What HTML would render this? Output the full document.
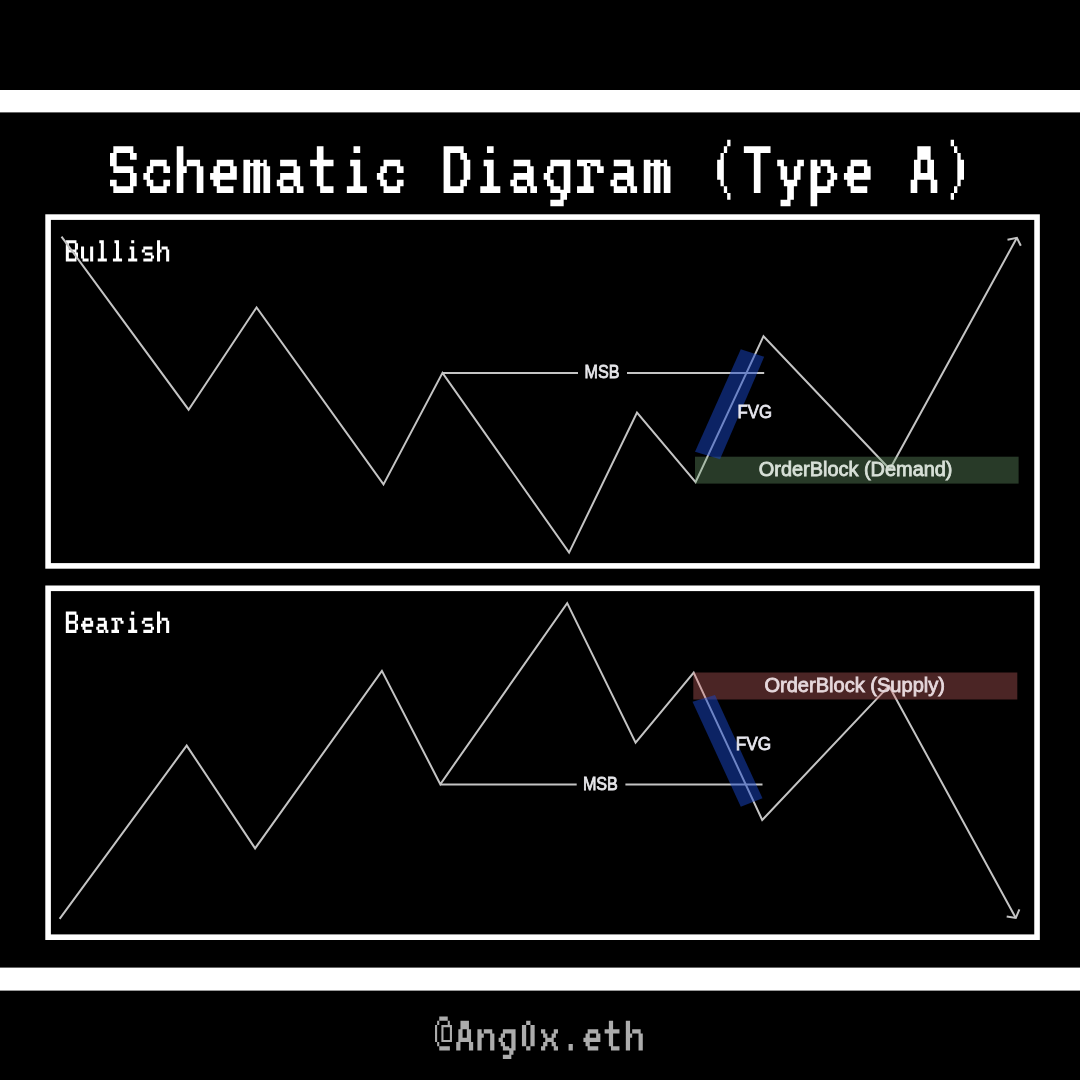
<!DOCTYPE html>
<html>
<head>
<meta charset="utf-8">
<style>
html,body{margin:0;padding:0;background:#000;width:1080px;height:1080px;overflow:hidden;}
svg{display:block;}
svg{will-change:transform;}
.mono{font-family:"Liberation Mono",monospace;}
.sans{font-family:"Liberation Sans",sans-serif;}
</style>
</head>
<body>
<svg width="1080" height="1080" viewBox="0 0 1080 1080">
<rect x="0" y="0" width="1080" height="1080" fill="#000"/>
<rect x="0" y="90" width="1080" height="22.4" fill="#fff"/>
<rect x="0" y="967.6" width="1080" height="23" fill="#fff"/>
<path fill="#fff" d="M113.33 146.30h20.02v3.34h-20.02zM113.33 149.64h20.02v3.34h-20.02zM110.00 152.97h6.67v3.34h-6.67zM130.01 152.97h6.67v3.34h-6.67zM110.00 156.31h6.67v3.34h-6.67zM130.01 156.31h6.67v3.34h-6.67zM110.00 159.64h6.67v3.34h-6.67zM110.00 162.98h6.67v3.34h-6.67zM113.33 166.32h20.02v3.34h-20.02zM113.33 169.65h20.02v3.34h-20.02zM130.01 172.99h6.67v3.34h-6.67zM130.01 176.32h6.67v3.34h-6.67zM110.00 179.66h6.67v3.34h-6.67zM130.01 179.66h6.67v3.34h-6.67zM110.00 183.00h6.67v3.34h-6.67zM130.01 183.00h6.67v3.34h-6.67zM113.33 186.33h20.02v3.34h-20.02zM113.33 189.67h20.02v3.34h-20.02zM150.03 159.64h16.68v3.34h-16.68zM150.03 162.98h16.68v3.34h-16.68zM146.69 166.32h6.67v3.34h-6.67zM163.37 166.32h6.67v3.34h-6.67zM146.69 169.65h6.67v3.34h-6.67zM163.37 169.65h6.67v3.34h-6.67zM143.36 172.99h6.67v3.34h-6.67zM143.36 176.32h6.67v3.34h-6.67zM146.69 179.66h6.67v3.34h-6.67zM163.37 179.66h6.67v3.34h-6.67zM146.69 183.00h6.67v3.34h-6.67zM163.37 183.00h6.67v3.34h-6.67zM150.03 186.33h16.68v3.34h-16.68zM150.03 189.67h16.68v3.34h-16.68zM176.72 146.30h6.67v3.34h-6.67zM176.72 149.64h6.67v3.34h-6.67zM176.72 152.97h6.67v3.34h-6.67zM176.72 156.31h6.67v3.34h-6.67zM176.72 159.64h6.67v3.34h-6.67zM186.72 159.64h13.34v3.34h-13.34zM176.72 162.98h6.67v3.34h-6.67zM186.72 162.98h13.34v3.34h-13.34zM176.72 166.32h10.01v3.34h-10.01zM196.73 166.32h6.67v3.34h-6.67zM176.72 169.65h10.01v3.34h-10.01zM196.73 169.65h6.67v3.34h-6.67zM176.72 172.99h6.67v3.34h-6.67zM196.73 172.99h6.67v3.34h-6.67zM176.72 176.32h6.67v3.34h-6.67zM196.73 176.32h6.67v3.34h-6.67zM176.72 179.66h6.67v3.34h-6.67zM196.73 179.66h6.67v3.34h-6.67zM176.72 183.00h6.67v3.34h-6.67zM196.73 183.00h6.67v3.34h-6.67zM176.72 186.33h6.67v3.34h-6.67zM196.73 186.33h6.67v3.34h-6.67zM176.72 189.67h6.67v3.34h-6.67zM196.73 189.67h6.67v3.34h-6.67zM216.75 159.64h16.68v3.34h-16.68zM216.75 162.98h16.68v3.34h-16.68zM213.41 166.32h6.67v3.34h-6.67zM230.09 166.32h6.67v3.34h-6.67zM213.41 169.65h6.67v3.34h-6.67zM230.09 169.65h6.67v3.34h-6.67zM210.08 172.99h26.69v3.34h-26.69zM210.08 176.32h26.69v3.34h-26.69zM213.41 179.66h6.67v3.34h-6.67zM213.41 183.00h6.67v3.34h-6.67zM216.75 186.33h16.68v3.34h-16.68zM216.75 189.67h16.68v3.34h-16.68zM243.44 159.64h6.67v3.34h-6.67zM253.44 159.64h6.67v3.34h-6.67zM263.45 159.64h3.34v3.34h-3.34zM243.44 162.98h23.35v3.34h-23.35zM243.44 166.32h6.67v3.34h-6.67zM253.44 166.32h6.67v3.34h-6.67zM263.45 166.32h6.67v3.34h-6.67zM243.44 169.65h6.67v3.34h-6.67zM253.44 169.65h6.67v3.34h-6.67zM263.45 169.65h6.67v3.34h-6.67zM243.44 172.99h6.67v3.34h-6.67zM253.44 172.99h6.67v3.34h-6.67zM263.45 172.99h6.67v3.34h-6.67zM243.44 176.32h6.67v3.34h-6.67zM253.44 176.32h6.67v3.34h-6.67zM263.45 176.32h6.67v3.34h-6.67zM243.44 179.66h6.67v3.34h-6.67zM253.44 179.66h6.67v3.34h-6.67zM263.45 179.66h6.67v3.34h-6.67zM243.44 183.00h6.67v3.34h-6.67zM253.44 183.00h6.67v3.34h-6.67zM263.45 183.00h6.67v3.34h-6.67zM243.44 186.33h6.67v3.34h-6.67zM253.44 186.33h6.67v3.34h-6.67zM263.45 186.33h6.67v3.34h-6.67zM243.44 189.67h6.67v3.34h-6.67zM253.44 189.67h6.67v3.34h-6.67zM263.45 189.67h6.67v3.34h-6.67zM280.13 159.64h16.68v3.34h-16.68zM280.13 162.98h16.68v3.34h-16.68zM293.48 166.32h6.67v3.34h-6.67zM293.48 169.65h6.67v3.34h-6.67zM280.13 172.99h20.02v3.34h-20.02zM280.13 176.32h20.02v3.34h-20.02zM276.80 179.66h6.67v3.34h-6.67zM293.48 179.66h6.67v3.34h-6.67zM276.80 183.00h6.67v3.34h-6.67zM293.48 183.00h6.67v3.34h-6.67zM280.13 186.33h13.34v3.34h-13.34zM296.81 186.33h6.67v3.34h-6.67zM280.13 189.67h13.34v3.34h-13.34zM296.81 189.67h6.67v3.34h-6.67zM316.83 146.30h6.67v3.34h-6.67zM316.83 149.64h6.67v3.34h-6.67zM316.83 152.97h6.67v3.34h-6.67zM316.83 156.31h6.67v3.34h-6.67zM310.16 159.64h23.35v3.34h-23.35zM310.16 162.98h23.35v3.34h-23.35zM316.83 166.32h6.67v3.34h-6.67zM316.83 169.65h6.67v3.34h-6.67zM316.83 172.99h6.67v3.34h-6.67zM316.83 176.32h6.67v3.34h-6.67zM316.83 179.66h6.67v3.34h-6.67zM316.83 183.00h6.67v3.34h-6.67zM320.16 186.33h13.34v3.34h-13.34zM320.16 189.67h13.34v3.34h-13.34zM353.52 146.30h6.67v3.34h-6.67zM353.52 149.64h6.67v3.34h-6.67zM350.19 159.64h10.01v3.34h-10.01zM350.19 162.98h10.01v3.34h-10.01zM353.52 166.32h6.67v3.34h-6.67zM353.52 169.65h6.67v3.34h-6.67zM353.52 172.99h6.67v3.34h-6.67zM353.52 176.32h6.67v3.34h-6.67zM353.52 179.66h6.67v3.34h-6.67zM353.52 183.00h6.67v3.34h-6.67zM346.85 186.33h20.02v3.34h-20.02zM346.85 189.67h20.02v3.34h-20.02zM383.55 159.64h16.68v3.34h-16.68zM383.55 162.98h16.68v3.34h-16.68zM380.21 166.32h6.67v3.34h-6.67zM396.89 166.32h6.67v3.34h-6.67zM380.21 169.65h6.67v3.34h-6.67zM396.89 169.65h6.67v3.34h-6.67zM376.88 172.99h6.67v3.34h-6.67zM376.88 176.32h6.67v3.34h-6.67zM380.21 179.66h6.67v3.34h-6.67zM396.89 179.66h6.67v3.34h-6.67zM380.21 183.00h6.67v3.34h-6.67zM396.89 183.00h6.67v3.34h-6.67zM383.55 186.33h16.68v3.34h-16.68zM383.55 189.67h16.68v3.34h-16.68zM443.60 146.30h20.02v3.34h-20.02zM443.60 149.64h20.02v3.34h-20.02zM443.60 152.97h6.67v3.34h-6.67zM460.28 152.97h6.67v3.34h-6.67zM443.60 156.31h6.67v3.34h-6.67zM460.28 156.31h6.67v3.34h-6.67zM443.60 159.64h6.67v3.34h-6.67zM463.61 159.64h6.67v3.34h-6.67zM443.60 162.98h6.67v3.34h-6.67zM463.61 162.98h6.67v3.34h-6.67zM443.60 166.32h6.67v3.34h-6.67zM463.61 166.32h6.67v3.34h-6.67zM443.60 169.65h6.67v3.34h-6.67zM463.61 169.65h6.67v3.34h-6.67zM443.60 172.99h6.67v3.34h-6.67zM463.61 172.99h6.67v3.34h-6.67zM443.60 176.32h6.67v3.34h-6.67zM463.61 176.32h6.67v3.34h-6.67zM443.60 179.66h6.67v3.34h-6.67zM460.28 179.66h6.67v3.34h-6.67zM443.60 183.00h6.67v3.34h-6.67zM460.28 183.00h6.67v3.34h-6.67zM443.60 186.33h20.02v3.34h-20.02zM443.60 189.67h20.02v3.34h-20.02zM486.96 146.30h6.67v3.34h-6.67zM486.96 149.64h6.67v3.34h-6.67zM483.63 159.64h10.01v3.34h-10.01zM483.63 162.98h10.01v3.34h-10.01zM486.96 166.32h6.67v3.34h-6.67zM486.96 169.65h6.67v3.34h-6.67zM486.96 172.99h6.67v3.34h-6.67zM486.96 176.32h6.67v3.34h-6.67zM486.96 179.66h6.67v3.34h-6.67zM486.96 183.00h6.67v3.34h-6.67zM480.29 186.33h20.02v3.34h-20.02zM480.29 189.67h20.02v3.34h-20.02zM513.65 159.64h16.68v3.34h-16.68zM513.65 162.98h16.68v3.34h-16.68zM527.00 166.32h6.67v3.34h-6.67zM527.00 169.65h6.67v3.34h-6.67zM513.65 172.99h20.02v3.34h-20.02zM513.65 176.32h20.02v3.34h-20.02zM510.32 179.66h6.67v3.34h-6.67zM527.00 179.66h6.67v3.34h-6.67zM510.32 183.00h6.67v3.34h-6.67zM527.00 183.00h6.67v3.34h-6.67zM513.65 186.33h13.34v3.34h-13.34zM530.33 186.33h6.67v3.34h-6.67zM513.65 189.67h13.34v3.34h-13.34zM530.33 189.67h6.67v3.34h-6.67zM550.35 159.64h20.02v3.34h-20.02zM550.35 162.98h20.02v3.34h-20.02zM547.01 166.32h6.67v3.34h-6.67zM563.69 166.32h6.67v3.34h-6.67zM547.01 169.65h6.67v3.34h-6.67zM563.69 169.65h6.67v3.34h-6.67zM543.68 172.99h6.67v3.34h-6.67zM563.69 172.99h6.67v3.34h-6.67zM543.68 176.32h6.67v3.34h-6.67zM563.69 176.32h6.67v3.34h-6.67zM547.01 179.66h6.67v3.34h-6.67zM563.69 179.66h6.67v3.34h-6.67zM547.01 183.00h6.67v3.34h-6.67zM563.69 183.00h6.67v3.34h-6.67zM550.35 186.33h10.01v3.34h-10.01zM563.69 186.33h6.67v3.34h-6.67zM550.35 189.67h20.02v3.34h-20.02zM560.36 193.00h6.67v3.34h-6.67zM560.36 196.34h6.67v3.34h-6.67zM550.35 199.68h13.34v3.34h-13.34zM550.35 203.01h13.34v3.34h-13.34zM577.04 159.64h23.35v3.34h-23.35zM577.04 162.98h10.01v3.34h-10.01zM590.38 162.98h10.01v3.34h-10.01zM583.71 166.32h6.67v3.34h-6.67zM597.05 166.32h6.67v3.34h-6.67zM583.71 169.65h6.67v3.34h-6.67zM597.05 169.65h6.67v3.34h-6.67zM583.71 172.99h6.67v3.34h-6.67zM583.71 176.32h6.67v3.34h-6.67zM583.71 179.66h6.67v3.34h-6.67zM583.71 183.00h6.67v3.34h-6.67zM577.04 186.33h16.68v3.34h-16.68zM577.04 189.67h16.68v3.34h-16.68zM613.73 159.64h16.68v3.34h-16.68zM613.73 162.98h16.68v3.34h-16.68zM627.08 166.32h6.67v3.34h-6.67zM627.08 169.65h6.67v3.34h-6.67zM613.73 172.99h20.02v3.34h-20.02zM613.73 176.32h20.02v3.34h-20.02zM610.40 179.66h6.67v3.34h-6.67zM627.08 179.66h6.67v3.34h-6.67zM610.40 183.00h6.67v3.34h-6.67zM627.08 183.00h6.67v3.34h-6.67zM613.73 186.33h13.34v3.34h-13.34zM630.41 186.33h6.67v3.34h-6.67zM613.73 189.67h13.34v3.34h-13.34zM630.41 189.67h6.67v3.34h-6.67zM643.76 159.64h6.67v3.34h-6.67zM653.76 159.64h6.67v3.34h-6.67zM663.77 159.64h3.34v3.34h-3.34zM643.76 162.98h23.35v3.34h-23.35zM643.76 166.32h6.67v3.34h-6.67zM653.76 166.32h6.67v3.34h-6.67zM663.77 166.32h6.67v3.34h-6.67zM643.76 169.65h6.67v3.34h-6.67zM653.76 169.65h6.67v3.34h-6.67zM663.77 169.65h6.67v3.34h-6.67zM643.76 172.99h6.67v3.34h-6.67zM653.76 172.99h6.67v3.34h-6.67zM663.77 172.99h6.67v3.34h-6.67zM643.76 176.32h6.67v3.34h-6.67zM653.76 176.32h6.67v3.34h-6.67zM663.77 176.32h6.67v3.34h-6.67zM643.76 179.66h6.67v3.34h-6.67zM653.76 179.66h6.67v3.34h-6.67zM663.77 179.66h6.67v3.34h-6.67zM643.76 183.00h6.67v3.34h-6.67zM653.76 183.00h6.67v3.34h-6.67zM663.77 183.00h6.67v3.34h-6.67zM643.76 186.33h6.67v3.34h-6.67zM653.76 186.33h6.67v3.34h-6.67zM663.77 186.33h6.67v3.34h-6.67zM643.76 189.67h6.67v3.34h-6.67zM653.76 189.67h6.67v3.34h-6.67zM663.77 189.67h6.67v3.34h-6.67zM727.16 139.63h3.34v3.34h-3.34zM727.16 142.96h3.34v3.34h-3.34zM723.82 146.30h3.34v3.34h-3.34zM723.82 149.64h3.34v3.34h-3.34zM720.48 152.97h3.34v3.34h-3.34zM720.48 156.31h3.34v3.34h-3.34zM717.15 159.64h6.67v3.34h-6.67zM717.15 162.98h6.67v3.34h-6.67zM717.15 166.32h6.67v3.34h-6.67zM717.15 169.65h6.67v3.34h-6.67zM717.15 172.99h6.67v3.34h-6.67zM717.15 176.32h6.67v3.34h-6.67zM720.48 179.66h3.34v3.34h-3.34zM720.48 183.00h3.34v3.34h-3.34zM723.82 186.33h3.34v3.34h-3.34zM723.82 189.67h3.34v3.34h-3.34zM727.16 193.00h3.34v3.34h-3.34zM727.16 196.34h3.34v3.34h-3.34zM743.84 146.30h26.69v3.34h-26.69zM743.84 149.64h26.69v3.34h-26.69zM753.84 152.97h6.67v3.34h-6.67zM753.84 156.31h6.67v3.34h-6.67zM753.84 159.64h6.67v3.34h-6.67zM753.84 162.98h6.67v3.34h-6.67zM753.84 166.32h6.67v3.34h-6.67zM753.84 169.65h6.67v3.34h-6.67zM753.84 172.99h6.67v3.34h-6.67zM753.84 176.32h6.67v3.34h-6.67zM753.84 179.66h6.67v3.34h-6.67zM753.84 183.00h6.67v3.34h-6.67zM753.84 186.33h6.67v3.34h-6.67zM753.84 189.67h6.67v3.34h-6.67zM777.20 159.64h6.67v3.34h-6.67zM797.21 159.64h6.67v3.34h-6.67zM777.20 162.98h6.67v3.34h-6.67zM797.21 162.98h6.67v3.34h-6.67zM780.53 166.32h6.67v3.34h-6.67zM793.88 166.32h6.67v3.34h-6.67zM780.53 169.65h6.67v3.34h-6.67zM793.88 169.65h6.67v3.34h-6.67zM780.53 172.99h6.67v3.34h-6.67zM793.88 172.99h6.67v3.34h-6.67zM780.53 176.32h6.67v3.34h-6.67zM793.88 176.32h6.67v3.34h-6.67zM783.87 179.66h13.34v3.34h-13.34zM783.87 183.00h13.34v3.34h-13.34zM787.20 186.33h6.67v3.34h-6.67zM787.20 189.67h6.67v3.34h-6.67zM787.20 193.00h6.67v3.34h-6.67zM787.20 196.34h6.67v3.34h-6.67zM780.53 199.68h10.01v3.34h-10.01zM780.53 203.01h10.01v3.34h-10.01zM810.56 159.64h6.67v3.34h-6.67zM820.56 159.64h10.01v3.34h-10.01zM810.56 162.98h6.67v3.34h-6.67zM820.56 162.98h10.01v3.34h-10.01zM810.56 166.32h10.01v3.34h-10.01zM827.24 166.32h6.67v3.34h-6.67zM810.56 169.65h10.01v3.34h-10.01zM827.24 169.65h6.67v3.34h-6.67zM810.56 172.99h6.67v3.34h-6.67zM830.57 172.99h6.67v3.34h-6.67zM810.56 176.32h6.67v3.34h-6.67zM830.57 176.32h6.67v3.34h-6.67zM810.56 179.66h6.67v3.34h-6.67zM827.24 179.66h6.67v3.34h-6.67zM810.56 183.00h6.67v3.34h-6.67zM827.24 183.00h6.67v3.34h-6.67zM810.56 186.33h20.02v3.34h-20.02zM810.56 189.67h20.02v3.34h-20.02zM810.56 193.00h6.67v3.34h-6.67zM810.56 196.34h6.67v3.34h-6.67zM810.56 199.68h6.67v3.34h-6.67zM810.56 203.01h6.67v3.34h-6.67zM850.59 159.64h16.68v3.34h-16.68zM850.59 162.98h16.68v3.34h-16.68zM847.25 166.32h6.67v3.34h-6.67zM863.93 166.32h6.67v3.34h-6.67zM847.25 169.65h6.67v3.34h-6.67zM863.93 169.65h6.67v3.34h-6.67zM843.92 172.99h26.69v3.34h-26.69zM843.92 176.32h26.69v3.34h-26.69zM847.25 179.66h6.67v3.34h-6.67zM847.25 183.00h6.67v3.34h-6.67zM850.59 186.33h16.68v3.34h-16.68zM850.59 189.67h16.68v3.34h-16.68zM917.31 146.30h13.34v3.34h-13.34zM917.31 149.64h13.34v3.34h-13.34zM917.31 152.97h13.34v3.34h-13.34zM917.31 156.31h13.34v3.34h-13.34zM913.97 159.64h6.67v3.34h-6.67zM927.32 159.64h6.67v3.34h-6.67zM913.97 162.98h6.67v3.34h-6.67zM927.32 162.98h6.67v3.34h-6.67zM913.97 166.32h6.67v3.34h-6.67zM927.32 166.32h6.67v3.34h-6.67zM913.97 169.65h6.67v3.34h-6.67zM927.32 169.65h6.67v3.34h-6.67zM913.97 172.99h20.02v3.34h-20.02zM913.97 176.32h20.02v3.34h-20.02zM910.64 179.66h6.67v3.34h-6.67zM930.65 179.66h6.67v3.34h-6.67zM910.64 183.00h6.67v3.34h-6.67zM930.65 183.00h6.67v3.34h-6.67zM910.64 186.33h6.67v3.34h-6.67zM930.65 186.33h6.67v3.34h-6.67zM910.64 189.67h6.67v3.34h-6.67zM930.65 189.67h6.67v3.34h-6.67zM950.67 139.63h3.34v3.34h-3.34zM950.67 142.96h3.34v3.34h-3.34zM954.00 146.30h3.34v3.34h-3.34zM954.00 149.64h3.34v3.34h-3.34zM957.34 152.97h3.34v3.34h-3.34zM957.34 156.31h3.34v3.34h-3.34zM957.34 159.64h6.67v3.34h-6.67zM957.34 162.98h6.67v3.34h-6.67zM957.34 166.32h6.67v3.34h-6.67zM957.34 169.65h6.67v3.34h-6.67zM957.34 172.99h6.67v3.34h-6.67zM957.34 176.32h6.67v3.34h-6.67zM957.34 179.66h3.34v3.34h-3.34zM957.34 183.00h3.34v3.34h-3.34zM954.00 186.33h3.34v3.34h-3.34zM954.00 189.67h3.34v3.34h-3.34zM950.67 193.00h3.34v3.34h-3.34zM950.67 196.34h3.34v3.34h-3.34z"/>
<rect x="48.1" y="217.1" width="988.95" height="348.8" fill="none" stroke="#fff" stroke-width="5.6"/>
<rect x="48.1" y="588.3" width="988.95" height="348.9" fill="none" stroke="#fff" stroke-width="5.6"/>
<path fill="#fff" d="M65.82 240.30h10.64v1.52h-10.64zM65.82 241.82h10.64v1.52h-10.64zM65.82 243.34h3.04v1.52h-3.04zM74.94 243.34h3.04v1.52h-3.04zM65.82 244.86h3.04v1.52h-3.04zM74.94 244.86h3.04v1.52h-3.04zM65.82 246.38h3.04v1.52h-3.04zM74.94 246.38h3.04v1.52h-3.04zM65.82 247.90h3.04v1.52h-3.04zM74.94 247.90h3.04v1.52h-3.04zM65.82 249.42h10.64v1.52h-10.64zM65.82 250.94h10.64v1.52h-10.64zM65.82 252.46h3.04v1.52h-3.04zM74.94 252.46h3.04v1.52h-3.04zM65.82 253.98h3.04v1.52h-3.04zM74.94 253.98h3.04v1.52h-3.04zM65.82 255.50h3.04v1.52h-3.04zM74.94 255.50h3.04v1.52h-3.04zM65.82 257.02h3.04v1.52h-3.04zM74.94 257.02h3.04v1.52h-3.04zM65.82 258.54h10.64v1.52h-10.64zM65.82 260.06h10.64v1.52h-10.64zM81.02 246.38h3.04v1.52h-3.04zM90.14 246.38h3.04v1.52h-3.04zM81.02 247.90h3.04v1.52h-3.04zM90.14 247.90h3.04v1.52h-3.04zM81.02 249.42h3.04v1.52h-3.04zM90.14 249.42h3.04v1.52h-3.04zM81.02 250.94h3.04v1.52h-3.04zM90.14 250.94h3.04v1.52h-3.04zM81.02 252.46h3.04v1.52h-3.04zM90.14 252.46h3.04v1.52h-3.04zM81.02 253.98h3.04v1.52h-3.04zM90.14 253.98h3.04v1.52h-3.04zM81.02 255.50h3.04v1.52h-3.04zM90.14 255.50h3.04v1.52h-3.04zM81.02 257.02h3.04v1.52h-3.04zM90.14 257.02h3.04v1.52h-3.04zM82.54 258.54h6.08v1.52h-6.08zM90.14 258.54h3.04v1.52h-3.04zM82.54 260.06h6.08v1.52h-6.08zM90.14 260.06h3.04v1.52h-3.04zM99.26 240.30h4.56v1.52h-4.56zM99.26 241.82h4.56v1.52h-4.56zM100.78 243.34h3.04v1.52h-3.04zM100.78 244.86h3.04v1.52h-3.04zM100.78 246.38h3.04v1.52h-3.04zM100.78 247.90h3.04v1.52h-3.04zM100.78 249.42h3.04v1.52h-3.04zM100.78 250.94h3.04v1.52h-3.04zM100.78 252.46h3.04v1.52h-3.04zM100.78 253.98h3.04v1.52h-3.04zM100.78 255.50h3.04v1.52h-3.04zM100.78 257.02h3.04v1.52h-3.04zM97.74 258.54h9.12v1.52h-9.12zM97.74 260.06h9.12v1.52h-9.12zM114.46 240.30h4.56v1.52h-4.56zM114.46 241.82h4.56v1.52h-4.56zM115.98 243.34h3.04v1.52h-3.04zM115.98 244.86h3.04v1.52h-3.04zM115.98 246.38h3.04v1.52h-3.04zM115.98 247.90h3.04v1.52h-3.04zM115.98 249.42h3.04v1.52h-3.04zM115.98 250.94h3.04v1.52h-3.04zM115.98 252.46h3.04v1.52h-3.04zM115.98 253.98h3.04v1.52h-3.04zM115.98 255.50h3.04v1.52h-3.04zM115.98 257.02h3.04v1.52h-3.04zM112.94 258.54h9.12v1.52h-9.12zM112.94 260.06h9.12v1.52h-9.12zM131.18 240.30h3.04v1.52h-3.04zM131.18 241.82h3.04v1.52h-3.04zM129.66 246.38h4.56v1.52h-4.56zM129.66 247.90h4.56v1.52h-4.56zM131.18 249.42h3.04v1.52h-3.04zM131.18 250.94h3.04v1.52h-3.04zM131.18 252.46h3.04v1.52h-3.04zM131.18 253.98h3.04v1.52h-3.04zM131.18 255.50h3.04v1.52h-3.04zM131.18 257.02h3.04v1.52h-3.04zM128.14 258.54h9.12v1.52h-9.12zM128.14 260.06h9.12v1.52h-9.12zM143.34 246.38h9.12v1.52h-9.12zM143.34 247.90h9.12v1.52h-9.12zM141.82 249.42h3.04v1.52h-3.04zM141.82 250.94h3.04v1.52h-3.04zM144.86 252.46h7.60v1.52h-7.60zM144.86 253.98h7.60v1.52h-7.60zM150.94 255.50h3.04v1.52h-3.04zM150.94 257.02h3.04v1.52h-3.04zM143.34 258.54h9.12v1.52h-9.12zM143.34 260.06h9.12v1.52h-9.12zM157.02 240.30h3.04v1.52h-3.04zM157.02 241.82h3.04v1.52h-3.04zM157.02 243.34h3.04v1.52h-3.04zM157.02 244.86h3.04v1.52h-3.04zM157.02 246.38h3.04v1.52h-3.04zM161.58 246.38h6.08v1.52h-6.08zM157.02 247.90h3.04v1.52h-3.04zM161.58 247.90h6.08v1.52h-6.08zM157.02 249.42h4.56v1.52h-4.56zM166.14 249.42h3.04v1.52h-3.04zM157.02 250.94h4.56v1.52h-4.56zM166.14 250.94h3.04v1.52h-3.04zM157.02 252.46h3.04v1.52h-3.04zM166.14 252.46h3.04v1.52h-3.04zM157.02 253.98h3.04v1.52h-3.04zM166.14 253.98h3.04v1.52h-3.04zM157.02 255.50h3.04v1.52h-3.04zM166.14 255.50h3.04v1.52h-3.04zM157.02 257.02h3.04v1.52h-3.04zM166.14 257.02h3.04v1.52h-3.04zM157.02 258.54h3.04v1.52h-3.04zM166.14 258.54h3.04v1.52h-3.04zM157.02 260.06h3.04v1.52h-3.04zM166.14 260.06h3.04v1.52h-3.04z"/>
<path fill="#fff" d="M65.82 611.60h10.64v1.52h-10.64zM65.82 613.12h10.64v1.52h-10.64zM65.82 614.64h3.04v1.52h-3.04zM74.94 614.64h3.04v1.52h-3.04zM65.82 616.16h3.04v1.52h-3.04zM74.94 616.16h3.04v1.52h-3.04zM65.82 617.68h3.04v1.52h-3.04zM74.94 617.68h3.04v1.52h-3.04zM65.82 619.20h3.04v1.52h-3.04zM74.94 619.20h3.04v1.52h-3.04zM65.82 620.72h10.64v1.52h-10.64zM65.82 622.24h10.64v1.52h-10.64zM65.82 623.76h3.04v1.52h-3.04zM74.94 623.76h3.04v1.52h-3.04zM65.82 625.28h3.04v1.52h-3.04zM74.94 625.28h3.04v1.52h-3.04zM65.82 626.80h3.04v1.52h-3.04zM74.94 626.80h3.04v1.52h-3.04zM65.82 628.32h3.04v1.52h-3.04zM74.94 628.32h3.04v1.52h-3.04zM65.82 629.84h10.64v1.52h-10.64zM65.82 631.36h10.64v1.52h-10.64zM84.06 617.68h7.60v1.52h-7.60zM84.06 619.20h7.60v1.52h-7.60zM82.54 620.72h3.04v1.52h-3.04zM90.14 620.72h3.04v1.52h-3.04zM82.54 622.24h3.04v1.52h-3.04zM90.14 622.24h3.04v1.52h-3.04zM81.02 623.76h12.16v1.52h-12.16zM81.02 625.28h12.16v1.52h-12.16zM82.54 626.80h3.04v1.52h-3.04zM82.54 628.32h3.04v1.52h-3.04zM84.06 629.84h7.60v1.52h-7.60zM84.06 631.36h7.60v1.52h-7.60zM97.74 617.68h7.60v1.52h-7.60zM97.74 619.20h7.60v1.52h-7.60zM103.82 620.72h3.04v1.52h-3.04zM103.82 622.24h3.04v1.52h-3.04zM97.74 623.76h9.12v1.52h-9.12zM97.74 625.28h9.12v1.52h-9.12zM96.22 626.80h3.04v1.52h-3.04zM103.82 626.80h3.04v1.52h-3.04zM96.22 628.32h3.04v1.52h-3.04zM103.82 628.32h3.04v1.52h-3.04zM97.74 629.84h6.08v1.52h-6.08zM105.34 629.84h3.04v1.52h-3.04zM97.74 631.36h6.08v1.52h-6.08zM105.34 631.36h3.04v1.52h-3.04zM111.42 617.68h10.64v1.52h-10.64zM111.42 619.20h4.56v1.52h-4.56zM117.50 619.20h4.56v1.52h-4.56zM114.46 620.72h3.04v1.52h-3.04zM120.54 620.72h3.04v1.52h-3.04zM114.46 622.24h3.04v1.52h-3.04zM120.54 622.24h3.04v1.52h-3.04zM114.46 623.76h3.04v1.52h-3.04zM114.46 625.28h3.04v1.52h-3.04zM114.46 626.80h3.04v1.52h-3.04zM114.46 628.32h3.04v1.52h-3.04zM111.42 629.84h7.60v1.52h-7.60zM111.42 631.36h7.60v1.52h-7.60zM131.18 611.60h3.04v1.52h-3.04zM131.18 613.12h3.04v1.52h-3.04zM129.66 617.68h4.56v1.52h-4.56zM129.66 619.20h4.56v1.52h-4.56zM131.18 620.72h3.04v1.52h-3.04zM131.18 622.24h3.04v1.52h-3.04zM131.18 623.76h3.04v1.52h-3.04zM131.18 625.28h3.04v1.52h-3.04zM131.18 626.80h3.04v1.52h-3.04zM131.18 628.32h3.04v1.52h-3.04zM128.14 629.84h9.12v1.52h-9.12zM128.14 631.36h9.12v1.52h-9.12zM143.34 617.68h9.12v1.52h-9.12zM143.34 619.20h9.12v1.52h-9.12zM141.82 620.72h3.04v1.52h-3.04zM141.82 622.24h3.04v1.52h-3.04zM144.86 623.76h7.60v1.52h-7.60zM144.86 625.28h7.60v1.52h-7.60zM150.94 626.80h3.04v1.52h-3.04zM150.94 628.32h3.04v1.52h-3.04zM143.34 629.84h9.12v1.52h-9.12zM143.34 631.36h9.12v1.52h-9.12zM157.02 611.60h3.04v1.52h-3.04zM157.02 613.12h3.04v1.52h-3.04zM157.02 614.64h3.04v1.52h-3.04zM157.02 616.16h3.04v1.52h-3.04zM157.02 617.68h3.04v1.52h-3.04zM161.58 617.68h6.08v1.52h-6.08zM157.02 619.20h3.04v1.52h-3.04zM161.58 619.20h6.08v1.52h-6.08zM157.02 620.72h4.56v1.52h-4.56zM166.14 620.72h3.04v1.52h-3.04zM157.02 622.24h4.56v1.52h-4.56zM166.14 622.24h3.04v1.52h-3.04zM157.02 623.76h3.04v1.52h-3.04zM166.14 623.76h3.04v1.52h-3.04zM157.02 625.28h3.04v1.52h-3.04zM166.14 625.28h3.04v1.52h-3.04zM157.02 626.80h3.04v1.52h-3.04zM166.14 626.80h3.04v1.52h-3.04zM157.02 628.32h3.04v1.52h-3.04zM166.14 628.32h3.04v1.52h-3.04zM157.02 629.84h3.04v1.52h-3.04zM166.14 629.84h3.04v1.52h-3.04zM157.02 631.36h3.04v1.52h-3.04zM166.14 631.36h3.04v1.52h-3.04z"/>
<polyline fill="none" stroke="#c4c4c4" stroke-width="2.0" stroke-linejoin="miter" stroke-miterlimit="10" points="61.5,236.6 188.6,409.7 256.6,307.4 383.5,484.4 442.5,372.9 569.1,552.6 637,412.6 695.6,482.2 763.5,336.2 889.8,469.3 1016.9,237.8"/>
<polyline fill="none" stroke="#c4c4c4" stroke-width="2.0" stroke-linejoin="miter" stroke-miterlimit="10" points="1007.5,239.7 1016.9,237.8 1020.8,245.8"/>
<line x1="442.5" y1="372.9" x2="578" y2="372.9" stroke="#c4c4c4" stroke-width="2.0"/>
<line x1="627" y1="372.9" x2="764.2" y2="372.9" stroke="#c4c4c4" stroke-width="2.0"/>
<rect x="695" y="456.7" width="323.6" height="26.9" fill="#76ab76" fill-opacity="0.34"/>
<polygon points="740.8,349.2 764.2,356.7 720,459.2 695,451.7" fill="#1846c8" fill-opacity="0.5"/>
<text class="sans" fill="#e6e6ea" stroke="#e6e6ea" stroke-width="0.8" font-size="18.8" x="584.6" y="377.5" textLength="35.0" lengthAdjust="spacingAndGlyphs">MSB</text>
<text class="sans" fill="#e6e6ee" stroke="#e6e6ee" stroke-width="0.8" font-size="18.8" x="737.5" y="418.3" textLength="34.5" lengthAdjust="spacingAndGlyphs">FVG</text>
<text class="sans" fill="#d8e0d8" stroke="#d8e0d8" stroke-width="0.8" font-size="19.3" x="758.8" y="475.6" textLength="193.7" lengthAdjust="spacingAndGlyphs">OrderBlock (Demand)</text>
<polyline fill="none" stroke="#c4c4c4" stroke-width="2.0" stroke-linejoin="miter" stroke-miterlimit="10" points="59.6,918.9 186.7,745.6 255.1,848.4 381.9,670.8 440.3,784.2 567.2,603.1 635.6,742.6 693.7,672.5 762.2,820 889,685.9 1015.8,918"/>
<polyline fill="none" stroke="#c4c4c4" stroke-width="2.0" stroke-linejoin="miter" stroke-miterlimit="10" points="1006.7,916.4 1015.8,918 1019.4,909.4"/>
<line x1="440.3" y1="784.6" x2="576.7" y2="784.6" stroke="#c4c4c4" stroke-width="2.0"/>
<line x1="625.4" y1="784.6" x2="762.5" y2="784.6" stroke="#c4c4c4" stroke-width="2.0"/>
<rect x="693.3" y="672.5" width="324" height="27" fill="#dc6d6d" fill-opacity="0.34"/>
<polygon points="692.5,701.7 715,695 762.5,798.3 740.8,806.7" fill="#1846c8" fill-opacity="0.5"/>
<text class="sans" fill="#e6e6ea" stroke="#e6e6ea" stroke-width="0.8" font-size="18.8" x="582.9" y="789.5" textLength="35.0" lengthAdjust="spacingAndGlyphs">MSB</text>
<text class="sans" fill="#e6e6ee" stroke="#e6e6ee" stroke-width="0.8" font-size="18.8" x="735.8" y="750" textLength="35.5" lengthAdjust="spacingAndGlyphs">FVG</text>
<text class="sans" fill="#e6d8dc" stroke="#e6d8dc" stroke-width="0.8" font-size="19.3" x="764.4" y="692.2" textLength="180.6" lengthAdjust="spacingAndGlyphs">OrderBlock (Supply)</text>
<path fill="#acacac" d="M439.26 1016.56h8.48v2.12h-8.48zM439.26 1018.68h8.48v2.12h-8.48zM437.14 1020.80h2.12v2.12h-2.12zM447.74 1020.80h2.12v2.12h-2.12zM437.14 1022.92h2.12v2.12h-2.12zM447.74 1022.92h2.12v2.12h-2.12zM435.02 1025.04h2.12v2.12h-2.12zM441.38 1025.04h10.60v2.12h-10.60zM435.02 1027.16h2.12v2.12h-2.12zM441.38 1027.16h2.12v2.12h-2.12zM449.86 1027.16h2.12v2.12h-2.12zM435.02 1029.28h2.12v2.12h-2.12zM441.38 1029.28h2.12v2.12h-2.12zM449.86 1029.28h2.12v2.12h-2.12zM435.02 1031.40h2.12v2.12h-2.12zM441.38 1031.40h2.12v2.12h-2.12zM449.86 1031.40h2.12v2.12h-2.12zM435.02 1033.52h2.12v2.12h-2.12zM441.38 1033.52h2.12v2.12h-2.12zM449.86 1033.52h2.12v2.12h-2.12zM435.02 1035.64h2.12v2.12h-2.12zM441.38 1035.64h2.12v2.12h-2.12zM449.86 1035.64h2.12v2.12h-2.12zM435.02 1037.76h2.12v2.12h-2.12zM441.38 1037.76h2.12v2.12h-2.12zM449.86 1037.76h2.12v2.12h-2.12zM435.02 1039.88h2.12v2.12h-2.12zM441.38 1039.88h10.60v2.12h-10.60zM437.14 1042.00h2.12v2.12h-2.12zM437.14 1044.12h2.12v2.12h-2.12zM439.26 1046.24h10.60v2.12h-10.60zM439.26 1048.36h10.60v2.12h-10.60zM460.46 1020.80h8.48v2.12h-8.48zM460.46 1022.92h8.48v2.12h-8.48zM460.46 1025.04h8.48v2.12h-8.48zM460.46 1027.16h8.48v2.12h-8.48zM458.34 1029.28h4.24v2.12h-4.24zM466.82 1029.28h4.24v2.12h-4.24zM458.34 1031.40h4.24v2.12h-4.24zM466.82 1031.40h4.24v2.12h-4.24zM458.34 1033.52h4.24v2.12h-4.24zM466.82 1033.52h4.24v2.12h-4.24zM458.34 1035.64h4.24v2.12h-4.24zM466.82 1035.64h4.24v2.12h-4.24zM458.34 1037.76h12.72v2.12h-12.72zM458.34 1039.88h12.72v2.12h-12.72zM456.22 1042.00h4.24v2.12h-4.24zM468.94 1042.00h4.24v2.12h-4.24zM456.22 1044.12h4.24v2.12h-4.24zM468.94 1044.12h4.24v2.12h-4.24zM456.22 1046.24h4.24v2.12h-4.24zM468.94 1046.24h4.24v2.12h-4.24zM456.22 1048.36h4.24v2.12h-4.24zM468.94 1048.36h4.24v2.12h-4.24zM477.42 1029.28h4.24v2.12h-4.24zM483.78 1029.28h8.48v2.12h-8.48zM477.42 1031.40h4.24v2.12h-4.24zM483.78 1031.40h8.48v2.12h-8.48zM477.42 1033.52h6.36v2.12h-6.36zM490.14 1033.52h4.24v2.12h-4.24zM477.42 1035.64h6.36v2.12h-6.36zM490.14 1035.64h4.24v2.12h-4.24zM477.42 1037.76h4.24v2.12h-4.24zM490.14 1037.76h4.24v2.12h-4.24zM477.42 1039.88h4.24v2.12h-4.24zM490.14 1039.88h4.24v2.12h-4.24zM477.42 1042.00h4.24v2.12h-4.24zM490.14 1042.00h4.24v2.12h-4.24zM477.42 1044.12h4.24v2.12h-4.24zM490.14 1044.12h4.24v2.12h-4.24zM477.42 1046.24h4.24v2.12h-4.24zM490.14 1046.24h4.24v2.12h-4.24zM477.42 1048.36h4.24v2.12h-4.24zM490.14 1048.36h4.24v2.12h-4.24zM502.86 1029.28h12.72v2.12h-12.72zM502.86 1031.40h12.72v2.12h-12.72zM500.74 1033.52h4.24v2.12h-4.24zM511.34 1033.52h4.24v2.12h-4.24zM500.74 1035.64h4.24v2.12h-4.24zM511.34 1035.64h4.24v2.12h-4.24zM498.62 1037.76h4.24v2.12h-4.24zM511.34 1037.76h4.24v2.12h-4.24zM498.62 1039.88h4.24v2.12h-4.24zM511.34 1039.88h4.24v2.12h-4.24zM500.74 1042.00h4.24v2.12h-4.24zM511.34 1042.00h4.24v2.12h-4.24zM500.74 1044.12h4.24v2.12h-4.24zM511.34 1044.12h4.24v2.12h-4.24zM502.86 1046.24h6.36v2.12h-6.36zM511.34 1046.24h4.24v2.12h-4.24zM502.86 1048.36h12.72v2.12h-12.72zM509.22 1050.48h4.24v2.12h-4.24zM509.22 1052.60h4.24v2.12h-4.24zM502.86 1054.72h8.48v2.12h-8.48zM502.86 1056.84h8.48v2.12h-8.48zM526.18 1020.80h4.24v2.12h-4.24zM526.18 1022.92h4.24v2.12h-4.24zM521.94 1025.04h4.24v2.12h-4.24zM530.42 1025.04h4.24v2.12h-4.24zM521.94 1027.16h4.24v2.12h-4.24zM530.42 1027.16h4.24v2.12h-4.24zM521.94 1029.28h4.24v2.12h-4.24zM530.42 1029.28h4.24v2.12h-4.24zM521.94 1031.40h4.24v2.12h-4.24zM530.42 1031.40h4.24v2.12h-4.24zM521.94 1033.52h4.24v2.12h-4.24zM530.42 1033.52h4.24v2.12h-4.24zM521.94 1035.64h4.24v2.12h-4.24zM530.42 1035.64h4.24v2.12h-4.24zM521.94 1037.76h4.24v2.12h-4.24zM530.42 1037.76h4.24v2.12h-4.24zM521.94 1039.88h4.24v2.12h-4.24zM530.42 1039.88h4.24v2.12h-4.24zM521.94 1042.00h4.24v2.12h-4.24zM530.42 1042.00h4.24v2.12h-4.24zM521.94 1044.12h4.24v2.12h-4.24zM530.42 1044.12h4.24v2.12h-4.24zM526.18 1046.24h4.24v2.12h-4.24zM526.18 1048.36h4.24v2.12h-4.24zM541.02 1029.28h4.24v2.12h-4.24zM553.74 1029.28h4.24v2.12h-4.24zM541.02 1031.40h4.24v2.12h-4.24zM553.74 1031.40h4.24v2.12h-4.24zM543.14 1033.52h4.24v2.12h-4.24zM551.62 1033.52h4.24v2.12h-4.24zM543.14 1035.64h4.24v2.12h-4.24zM551.62 1035.64h4.24v2.12h-4.24zM545.26 1037.76h8.48v2.12h-8.48zM545.26 1039.88h8.48v2.12h-8.48zM543.14 1042.00h4.24v2.12h-4.24zM551.62 1042.00h4.24v2.12h-4.24zM543.14 1044.12h4.24v2.12h-4.24zM551.62 1044.12h4.24v2.12h-4.24zM541.02 1046.24h4.24v2.12h-4.24zM553.74 1046.24h4.24v2.12h-4.24zM541.02 1048.36h4.24v2.12h-4.24zM553.74 1048.36h4.24v2.12h-4.24zM568.58 1044.12h4.24v2.12h-4.24zM568.58 1046.24h4.24v2.12h-4.24zM568.58 1048.36h4.24v2.12h-4.24zM587.66 1029.28h10.60v2.12h-10.60zM587.66 1031.40h10.60v2.12h-10.60zM585.54 1033.52h4.24v2.12h-4.24zM596.14 1033.52h4.24v2.12h-4.24zM585.54 1035.64h4.24v2.12h-4.24zM596.14 1035.64h4.24v2.12h-4.24zM583.42 1037.76h16.96v2.12h-16.96zM583.42 1039.88h16.96v2.12h-16.96zM585.54 1042.00h4.24v2.12h-4.24zM585.54 1044.12h4.24v2.12h-4.24zM587.66 1046.24h10.60v2.12h-10.60zM587.66 1048.36h10.60v2.12h-10.60zM608.86 1020.80h4.24v2.12h-4.24zM608.86 1022.92h4.24v2.12h-4.24zM608.86 1025.04h4.24v2.12h-4.24zM608.86 1027.16h4.24v2.12h-4.24zM604.62 1029.28h14.84v2.12h-14.84zM604.62 1031.40h14.84v2.12h-14.84zM608.86 1033.52h4.24v2.12h-4.24zM608.86 1035.64h4.24v2.12h-4.24zM608.86 1037.76h4.24v2.12h-4.24zM608.86 1039.88h4.24v2.12h-4.24zM608.86 1042.00h4.24v2.12h-4.24zM608.86 1044.12h4.24v2.12h-4.24zM610.98 1046.24h8.48v2.12h-8.48zM610.98 1048.36h8.48v2.12h-8.48zM625.82 1020.80h4.24v2.12h-4.24zM625.82 1022.92h4.24v2.12h-4.24zM625.82 1025.04h4.24v2.12h-4.24zM625.82 1027.16h4.24v2.12h-4.24zM625.82 1029.28h4.24v2.12h-4.24zM632.18 1029.28h8.48v2.12h-8.48zM625.82 1031.40h4.24v2.12h-4.24zM632.18 1031.40h8.48v2.12h-8.48zM625.82 1033.52h6.36v2.12h-6.36zM638.54 1033.52h4.24v2.12h-4.24zM625.82 1035.64h6.36v2.12h-6.36zM638.54 1035.64h4.24v2.12h-4.24zM625.82 1037.76h4.24v2.12h-4.24zM638.54 1037.76h4.24v2.12h-4.24zM625.82 1039.88h4.24v2.12h-4.24zM638.54 1039.88h4.24v2.12h-4.24zM625.82 1042.00h4.24v2.12h-4.24zM638.54 1042.00h4.24v2.12h-4.24zM625.82 1044.12h4.24v2.12h-4.24zM638.54 1044.12h4.24v2.12h-4.24zM625.82 1046.24h4.24v2.12h-4.24zM638.54 1046.24h4.24v2.12h-4.24zM625.82 1048.36h4.24v2.12h-4.24zM638.54 1048.36h4.24v2.12h-4.24z"/>
</svg>
</body>
</html>
